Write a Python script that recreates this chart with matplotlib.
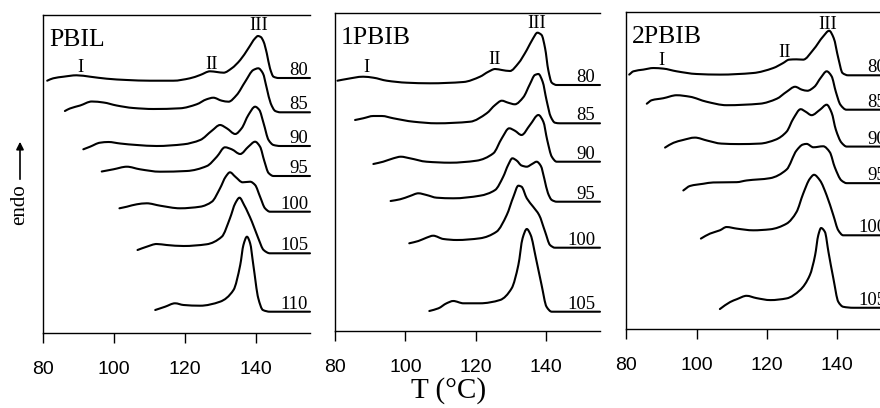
import matplotlib
matplotlib.use("Agg")
import numpy as np
import matplotlib.pyplot as plt
from matplotlib.path import Path
from matplotlib.patches import PathPatch, FancyArrowPatch

SERIF = "Liberation Serif"
SANS = "Liberation Sans"

# ---------------- data (temperature in degC, heat flow in arbitrary units, curves stacked as in the figure)
panel_names = ["PBIL", "1PBIB", "2PBIB"]
x_ticks = [80, 100, 120, 140]
roman_labels = ["I", "II", "III"]

# PBIL
pbil_labels = ["80", "85", "90", "95", "100", "105", "110"]
T_pbil_80 = [81.1, 82.8, 85.7, 89.4, 93.2, 97.9, 103.6, 110.1, 116.7, 121.4, 124.3, 127.1, 129.0, 130.9, 133.2, 135.6, 137.9, 139.8, 140.6, 141.4, 142.2, 143.1, 144.0, 145.0, 146.4, 155.3]
H_pbil_80 = [252.3, 254.7, 256.3, 257.7, 256.3, 254.3, 253.0, 252.3, 252.3, 254.7, 258.0, 261.7, 261.0, 260.3, 264.7, 273.0, 284.7, 294.7, 297.0, 296.0, 291.3, 279.7, 264.7, 256.3, 255.0, 255.0]
T_pbil_85 = [86.1, 87.5, 90.4, 93.7, 97.0, 100.7, 105.4, 111.1, 118.6, 123.3, 126.1, 128.0, 130.4, 132.3, 134.6, 137.0, 139.3, 140.7, 142.0, 143.1, 144.2, 145.5, 146.9, 155.3]
H_pbil_85 = [222.0, 224.5, 227.5, 231.5, 230.5, 227.5, 225.0, 224.0, 224.7, 228.7, 233.7, 235.3, 232.3, 231.3, 238.0, 251.3, 263.0, 264.7, 259.7, 244.7, 229.7, 222.0, 220.7, 220.7]
T_pbil_90 = [91.3, 93.2, 96.0, 98.4, 101.7, 106.4, 112.0, 119.6, 124.3, 127.6, 129.9, 131.8, 134.2, 136.0, 137.9, 139.8, 141.0, 142.2, 143.6, 145.0, 146.9, 155.3]
H_pbil_90 = [183.7, 186.3, 190.3, 191.0, 189.5, 188.0, 187.0, 188.7, 193.0, 202.3, 208.0, 204.7, 199.0, 204.7, 218.0, 226.3, 223.0, 209.7, 193.0, 188.0, 187.0, 187.0]
T_pbil_95 = [96.5, 99.8, 103.6, 107.3, 113.0, 120.5, 126.2, 129.0, 131.3, 133.2, 135.6, 137.9, 139.8, 141.2, 142.4, 143.6, 145.0, 155.3]
H_pbil_95 = [161.5, 163.7, 166.3, 163.7, 161.3, 162.0, 167.0, 176.3, 185.7, 183.7, 179.0, 186.3, 191.3, 186.3, 172.0, 160.0, 157.0, 157.0]
T_pbil_100 = [101.5, 103.6, 106.4, 109.2, 113.0, 118.6, 124.3, 127.6, 129.9, 131.5, 132.7, 134.2, 136.3, 138.4, 139.8, 141.2, 142.6, 144.0, 155.3]
H_pbil_100 = [124.7, 126.3, 128.7, 129.7, 127.3, 124.7, 126.3, 131.3, 144.7, 156.3, 160.7, 156.3, 150.7, 151.3, 148.0, 136.3, 124.7, 121.3, 121.3]
T_pbil_105 = [106.6, 109.2, 112.0, 114.8, 119.6, 126.1, 130.4, 132.7, 134.2, 135.4, 136.7, 138.9, 140.7, 142.2, 144.0, 155.3]
H_pbil_105 = [83.0, 86.3, 89.0, 88.0, 87.0, 88.7, 96.3, 114.7, 129.7, 135.3, 128.0, 111.3, 94.7, 83.0, 79.7, 79.7]
T_pbil_110 = [111.6, 114.4, 117.2, 119.6, 124.3, 129.9, 133.7, 135.6, 136.5, 137.5, 138.4, 139.3, 140.7, 142.0, 144.0, 155.3]
H_pbil_110 = [23.0, 26.3, 29.7, 28.0, 27.3, 31.3, 43.0, 68.0, 88.0, 96.3, 89.7, 68.0, 34.7, 23.0, 21.3, 21.3]

# 1PBIB
pbib1_labels = ["80", "85", "90", "95", "100", "105"]
T_pbib1_80 = [80.7, 83.3, 88.0, 90.9, 94.7, 100.4, 107.0, 116.5, 121.2, 123.6, 125.5, 127.4, 129.7, 132.1, 134.5, 136.3, 137.5, 138.7, 139.7, 140.6, 141.6, 143.0, 155.3]
H_pbib1_80 = [250.3, 252.0, 254.3, 253.3, 250.3, 248.3, 247.7, 249.0, 254.3, 259.3, 262.0, 261.0, 260.0, 267.7, 281.0, 292.7, 298.3, 296.0, 282.7, 261.0, 248.3, 246.0, 246.0]
T_pbib1_85 = [85.7, 88.0, 90.9, 93.3, 96.6, 102.3, 108.9, 118.4, 123.1, 125.5, 127.4, 129.2, 131.1, 133.5, 135.4, 136.8, 137.8, 139.0, 140.1, 141.3, 142.5, 143.9, 155.3]
H_pbib1_85 = [211.0, 212.7, 215.0, 215.0, 212.7, 209.3, 207.7, 209.3, 217.7, 226.0, 230.3, 228.3, 226.7, 233.7, 247.0, 256.0, 257.0, 249.3, 231.0, 214.3, 208.3, 207.7, 207.7]
T_pbib1_90 = [90.9, 93.7, 96.6, 98.7, 101.3, 106.0, 112.7, 120.2, 125.0, 127.4, 129.5, 131.1, 133.0, 135.4, 137.8, 139.2, 140.3, 141.6, 143.0, 155.3]
H_pbib1_90 = [167.0, 169.3, 172.7, 174.3, 172.7, 169.3, 168.3, 170.3, 177.7, 192.7, 202.7, 200.3, 196.0, 206.0, 216.0, 209.3, 191.0, 174.3, 169.3, 169.3]
T_pbib1_95 = [95.8, 98.5, 101.3, 103.7, 106.0, 108.9, 113.6, 121.2, 125.5, 127.8, 129.2, 130.4, 131.6, 133.0, 134.5, 136.0, 137.3, 138.5, 139.5, 140.5, 141.6, 143.0, 155.3]
H_pbib1_95 = [130.0, 131.7, 135.0, 137.7, 136.0, 133.3, 132.7, 135.3, 141.0, 154.3, 166.0, 172.7, 170.5, 165.5, 164.3, 167.0, 169.3, 165.0, 152.0, 138.0, 131.0, 129.3, 129.3]
T_pbib1_100 = [101.1, 103.7, 106.0, 107.9, 110.8, 114.6, 121.2, 125.9, 128.8, 130.7, 132.1, 133.0, 134.5, 136.3, 138.0, 139.7, 141.1, 142.5, 155.3]
H_pbib1_100 = [87.7, 90.0, 93.3, 95.3, 92.0, 91.0, 92.7, 99.3, 116.0, 134.3, 145.3, 144.3, 132.7, 124.3, 116.0, 99.3, 86.0, 83.3, 83.3]
T_pbib1_105 = [106.8, 109.4, 111.7, 113.6, 116.5, 121.2, 126.9, 130.2, 132.1, 133.3, 134.5, 135.6, 137.1, 138.7, 140.1, 141.6, 155.3]
H_pbib1_105 = [20.0, 22.7, 27.7, 30.0, 27.7, 27.7, 31.0, 42.7, 66.0, 92.7, 102.0, 96.0, 72.7, 46.0, 24.3, 19.3, 19.3]

# 2PBIB
pbib2_labels = ["80", "85", "90", "95", "100", "105"]
T_pbib2_80 = [80.8, 82.0, 84.8, 87.7, 90.5, 94.3, 100.0, 106.6, 116.1, 121.8, 124.6, 126.3, 128.4, 130.3, 133.2, 136.0, 137.7, 139.0, 140.3, 141.5, 143.1, 155.3]
H_pbib2_80 = [255.2, 258.5, 260.2, 261.8, 261.2, 258.5, 255.8, 255.2, 256.8, 261.8, 266.8, 270.2, 270.5, 270.2, 280.2, 293.5, 299.2, 291.8, 271.8, 256.8, 254.5, 254.5]
T_pbib2_85 = [85.8, 87.2, 90.5, 94.3, 98.1, 102.8, 108.5, 118.0, 122.8, 125.6, 128.0, 130.0, 131.5, 133.5, 135.3, 137.0, 138.4, 139.6, 140.9, 142.6, 155.3]
H_pbib2_85 = [226.0, 229.5, 231.5, 234.5, 233.0, 228.0, 224.5, 226.0, 231.0, 238.0, 243.0, 240.0, 239.0, 243.0, 252.0, 258.5, 253.5, 238.0, 225.0, 220.0, 220.0]
T_pbib2_90 = [91.0, 93.4, 96.0, 99.5, 103.0, 107.0, 112.0, 118.0, 122.5, 125.6, 127.5, 129.6, 131.0, 132.7, 135.1, 137.0, 138.4, 139.6, 141.2, 142.7, 155.3]
H_pbib2_90 = [182.0, 186.8, 189.5, 192.0, 189.0, 186.0, 185.5, 186.0, 190.0, 198.0, 211.0, 220.5, 218.0, 214.5, 220.0, 225.0, 217.0, 200.0, 187.0, 183.0, 183.0]
T_pbib2_95 = [96.2, 98.1, 101.9, 104.7, 111.4, 114.2, 120.9, 125.6, 128.4, 130.2, 131.3, 133.2, 136.0, 137.9, 139.3, 141.2, 142.7, 155.3]
H_pbib2_95 = [139.0, 143.5, 145.7, 147.0, 147.3, 149.0, 151.3, 160.0, 179.0, 185.0, 185.7, 182.3, 183.3, 177.3, 162.3, 149.0, 146.3, 146.3]
T_pbib2_100 = [101.2, 103.8, 106.6, 108.5, 111.4, 116.1, 120.9, 125.6, 128.4, 130.3, 132.2, 133.4, 135.1, 137.0, 138.9, 140.3, 141.7, 155.3]
H_pbib2_100 = [90.7, 95.7, 99.0, 102.3, 100.7, 99.0, 100.0, 105.7, 117.3, 135.7, 150.7, 154.7, 149.0, 134.0, 114.0, 99.0, 94.0, 94.0]
T_pbib2_105 = [106.6, 109.5, 111.5, 114.2, 117.0, 121.0, 125.6, 129.4, 132.2, 133.7, 134.6, 135.4, 136.5, 137.5, 138.9, 140.3, 141.7, 144.6, 155.3]
H_pbib2_105 = [20.0, 27.0, 30.0, 33.3, 31.0, 29.0, 30.7, 39.0, 54.0, 74.0, 94.0, 101.3, 97.3, 77.3, 50.7, 27.3, 22.3, 21.3, 21.3]

# peak annotation positions (T, heat flow) for I, II, III
roman_T_pbil = [90.4, 127.6, 140.8]
roman_H_pbil = [265.0, 268.5, 308.0]
roman_T_pbib1 = [89.0, 125.3, 137.3]
roman_H_pbib1 = [263.0, 272.0, 308.0]
roman_T_pbib2 = [90.0, 125.1, 137.4]
roman_H_pbib2 = [269.5, 277.0, 305.0]


def smooth_path(x, y):
    """Smooth Bezier path through the read points (monotone cubic tangents)."""
    x = np.asarray(x, float)
    y = np.asarray(y, float)
    h = np.diff(x)
    d = np.diff(y) / h
    m = np.zeros_like(x)
    m[0], m[-1] = d[0], d[-1]
    for k in range(1, len(x) - 1):
        if d[k - 1] * d[k] <= 0:
            m[k] = 0.0
        else:
            w1 = 2 * h[k] + h[k - 1]
            w2 = h[k] + 2 * h[k - 1]
            m[k] = (w1 + w2) / (w1 / d[k - 1] + w2 / d[k])
    verts = [(x[0], y[0])]
    codes = [Path.MOVETO]
    for k in range(len(x) - 1):
        verts += [(x[k] + h[k] / 3, y[k] + m[k] * h[k] / 3),
                  (x[k + 1] - h[k] / 3, y[k + 1] - m[k + 1] * h[k] / 3),
                  (x[k + 1], y[k + 1])]
        codes += [Path.CURVE4] * 3
    return Path(verts, codes)


# ---------------- assemble
panels = [
    dict(name=panel_names[0], labels=pbil_labels,
         T=[T_pbil_80, T_pbil_85, T_pbil_90, T_pbil_95, T_pbil_100, T_pbil_105, T_pbil_110],
         H=[H_pbil_80, H_pbil_85, H_pbil_90, H_pbil_95, H_pbil_100, H_pbil_105, H_pbil_110],
         rT=roman_T_pbil, rH=roman_H_pbil,
         rect=[43.3, 15, 310.0, 333], lab_x=154.8),
    dict(name=panel_names[1], labels=pbib1_labels,
         T=[T_pbib1_80, T_pbib1_85, T_pbib1_90, T_pbib1_95, T_pbib1_100, T_pbib1_105],
         H=[H_pbib1_80, H_pbib1_85, H_pbib1_90, H_pbib1_95, H_pbib1_100, H_pbib1_105],
         rT=roman_T_pbib1, rH=roman_H_pbib1,
         rect=[335.0, 13, 600.0, 331], lab_x=154.0),
    dict(name=panel_names[2], labels=pbib2_labels,
         T=[T_pbib2_80, T_pbib2_85, T_pbib2_90, T_pbib2_95, T_pbib2_100, T_pbib2_105],
         H=[H_pbib2_80, H_pbib2_85, H_pbib2_90, H_pbib2_95, H_pbib2_100, H_pbib2_105],
         rT=roman_T_pbib2, rH=roman_H_pbib2,
         rect=[626.4, 12, 891.0, 329], lab_x=154.0),
]

W, Hpx = 880, 408
fig = plt.figure(figsize=(W / 100, Hpx / 100), dpi=100)

for p in panels:
    x0, ytop, x1, ybot = p["rect"]
    ax = fig.add_axes([x0 / W, 1 - ybot / Hpx, (x1 - x0) / W, (ybot - ytop) / Hpx])
    ax.set_xlim(80, 155.3)
    ax.set_ylim(0, 318)
    for s in ["left", "top", "bottom"]:
        ax.spines[s].set_linewidth(1.0)
        ax.spines[s].set_color("black")
    ax.spines["right"].set_visible(False)
    ax.set_yticks([])
    ax.set_xticks(x_ticks)
    ax.tick_params(axis="x", direction="out", length=7.5, width=1.0, pad=13,
                   labelsize=14)
    for lab in ax.get_xticklabels():
        lab.set_fontfamily(SANS)
    for T, Hf, lab in zip(p["T"], p["H"], p["labels"]):
        ax.add_patch(PathPatch(smooth_path(T, Hf), fill=False, ec="black", lw=1.5,
                               joinstyle="round", capstyle="round", clip_on=False))
        ax.text(p["lab_x"], Hf[-1] + 3.0, lab, ha="right", va="baseline",
                fontsize=13.5, family=SERIF)
    for t, h, r in zip(p["rT"], p["rH"], roman_labels):
        ax.text(t, h, r, ha="center", va="center", fontsize=13.5, family=SERIF)
    ax.text(81.7, 286.5, p["name"], ha="left", va="baseline", fontsize=18.5, family=SERIF)

# axis labels
fig.text(449 / W, 1 - 391 / Hpx, "T (\u00b0C)", ha="center", va="center",
         fontsize=21, family=SERIF)
fig.text(20 / W, 1 - 205 / Hpx, "endo", ha="center", va="center", rotation=90,
         fontsize=15, family=SERIF)
fig.patches.append(FancyArrowPatch(
    (20 / W, 1 - 182 / Hpx), (20 / W, 1 - 139 / Hpx), transform=fig.transFigure,
    arrowstyle="-|>", mutation_scale=11, lw=1.2, color="black"))

fig.savefig("out.png", dpi=100)
